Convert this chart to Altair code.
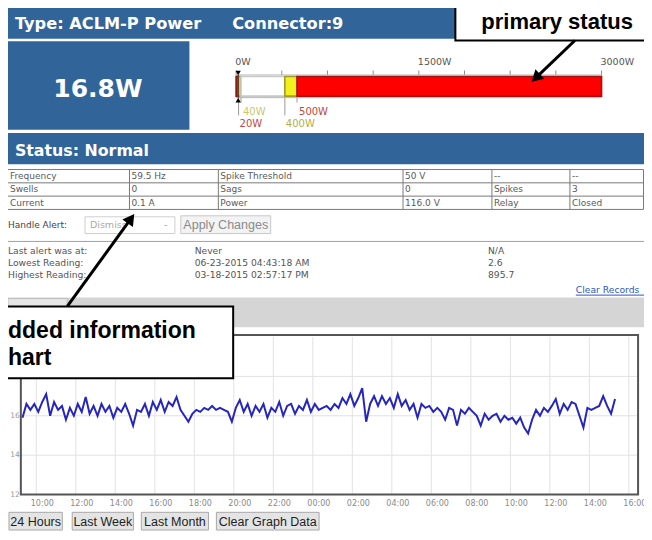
import altair as alt
import pandas as pd

# ---------------- data ----------------
device_type = "Type: ACLM-P Power"
connector = "Connector:9"
current_reading = "16.8W"
current_power = [16.8]
status_label = "Status: Normal"

gauge_domain = [0, 3000]
gauge_ticks = [0, 375, 750, 1125, 1500, 1875, 2250, 2625, 3000]
gauge_labelled = [0, 1500, 3000]
zone_start = [0, 20, 40, 400, 500]
zone_end = [20, 40, 400, 500, 3000]
threshold_values = [20, 40, 400, 500]
threshold_labels = ["20W", "40W", "400W", "500W"]
threshold_row = ["lower", "upper", "lower", "upper"]

table_rows = [
    ["Frequency", "59.5 Hz", "Spike Threshold", "50 V", "--", "--"],
    ["Swells", "0", "Sags", "0", "Spikes", "3"],
    ["Current", "0.1 A", "Power", "116.0 V", "Relay", "Closed"],
]
handle_label = "Handle Alert:"
handle_choice = "Dismiss"
apply_label = "Apply Changes"
info_labels = ["Last alert was at:", "Lowest Reading:", "Highest Reading:"]
info_times = ["Never", "06-23-2015 04:43:18 AM", "03-18-2015 02:57:17 PM"]
info_values = ["N/A", "2.6", "895.7"]
clear_label = "Clear Records"
button_labels = ["24 Hours", "Last Week", "Last Month", "Clear Graph Data"]
callout_top = "primary status"
callout_bottom = ["dded information", "hart"]

series_day = "2015-06-24 00:00"
series_start = "2015-06-24 09:18"
series_step_min = 12
power_w = [
    15.9, 16.6, 16.3, 16.6, 16.2, 16.7, 17.1, 16.0, 16.7, 16.3,
    16.5, 15.8, 16.4, 16.0, 16.6, 16.2, 16.95, 16.1, 16.5, 16.0,
    16.6, 16.2, 16.5, 15.9, 16.4, 16.2, 16.6, 16.1, 15.5, 16.3,
    16.2, 16.6, 16.0, 16.7, 16.3, 16.8, 16.2, 16.7, 16.5, 16.95,
    16.3, 16.0, 15.7, 16.1, 16.3, 16.2, 16.4, 16.3, 16.5, 16.3,
    16.4, 16.3, 16.2, 15.7, 16.4, 16.8, 16.2, 16.6, 16.0, 16.5,
    16.2, 16.6, 15.9, 16.4, 16.2, 16.7, 16.0, 16.5, 16.6, 16.1,
    16.5, 16.3, 16.8, 16.2, 16.6, 16.3, 16.4, 16.5, 16.3, 16.6,
    16.4, 16.9, 16.6, 17.1, 16.5, 16.9, 17.4, 15.7, 16.6, 17.0,
    16.5, 17.0, 16.6, 16.9, 16.4, 17.1, 16.5, 16.8, 16.3, 16.6,
    15.9, 16.6, 16.4, 16.5, 16.2, 16.4, 16.2, 15.8, 16.4, 16.3,
    15.5, 16.3, 16.1, 16.4, 16.2, 16.0, 15.5, 16.1, 15.8, 16.0,
    16.1, 15.7, 16.0, 15.8, 15.9, 15.6, 15.9, 15.4, 15.1, 15.8,
    16.3, 16.0, 16.4, 16.2, 16.5, 16.85, 16.1, 16.6, 16.3, 16.7,
    16.6, 16.0, 15.4, 16.4, 16.3, 16.4, 16.5, 17.0, 16.5, 16.1,
    16.85,
]
y_domain = [12, 20]
y_gridlines = [14, 16, 18]
y_labelled = [12, 14, 16]
x_tick_start = "2015-06-24 10:00"
x_tick_end = "2015-06-25 16:00"
x_view_start = "2015-06-24 09:13"
x_view_end = "2015-06-25 16:28"

# ---------------- styles / layout ----------------
VF = "DejaVu Sans"
AF = "Liberation Sans"
BLUE = "#31659a"
zone_fill = ["#e02a1c", "#f4f01e", "#ffffff", "#f4f01e", "#ff0000"]
zone_edge = ["#8a1a10", "#a8a43a", "#c8c8c8", "#a09a30", "#a81010"]
threshold_colors = ["#c0493c", "#cdc866", "#b5ae44", "#c0493c"]

W, H = 636, 524          # canvas that fits the window with its 8px page margin
KX, KY = W / 644.0, H / 532.0


def X(v):
    return v * KX


def Y(v):
    return v * KY


def rect(x, x2, y, y2, fill="#ffffff", stroke=None, sw=1.0, fill_opacity=1.0):
    props = dict(fill=fill, fillOpacity=fill_opacity)
    if stroke:
        props.update(stroke=stroke, strokeWidth=sw)
    return alt.Chart().mark_rect(**props).encode(
        x=alt.value(X(x)), x2=alt.value(X(x2)), y=alt.value(Y(y)), y2=alt.value(Y(y2)))


def text(s, x, y, size=9.5, color="#555555", font=VF, weight="normal",
         align="left", baseline="middle"):
    return alt.Chart().mark_text(
        text=s, font=font, fontSize=size, fontWeight=weight, color=color,
        align=align, baseline=baseline).encode(x=alt.value(X(x)), y=alt.value(Y(y)))


def seg(x, y, x2, y2, color="#777777", sw=1.0):
    return alt.Chart().mark_rule(color=color, strokeWidth=sw).encode(
        x=alt.value(X(x)), y=alt.value(Y(y)), x2=alt.value(X(x2)), y2=alt.value(Y(y2)))


def head(x, y, angle, size=170):
    return alt.Chart().mark_point(
        shape="triangle-up", filled=True, color="black", opacity=1,
        size=size, angle=angle).encode(x=alt.value(X(x)), y=alt.value(Y(y)))


layers = []

# header / gauge box / status
layers += [
    rect(-1, 645, -2, 31.3, BLUE),
    text(device_type, 7, 16, 16.2, "white", weight="bold"),
    text(connector, 227, 16, 16.2, "white", weight="bold"),
    rect(-1, 183.7, 33.7, 123.7, BLUE),
    text(current_reading, 91, 82, 25, "white", weight="bold", align="center"),
    rect(-1, 645, 127, 158.7, BLUE),
    text(status_label, 7, 145, 15.8, "white", weight="bold"),
]

# table
col_edges = [-1, 123, 213, 400, 490, 569, 643.5]
row_edges = [164, 177.5, 191, 204.5]
for ry in row_edges:
    layers.append(seg(col_edges[0], ry, col_edges[-1], ry, "#7a7a7a", 1))
for cx in col_edges:
    layers.append(seg(cx, row_edges[0], cx, row_edges[-1], "#7a7a7a", 1))
for ri, row in enumerate(table_rows):
    yc = (row_edges[ri] + row_edges[ri + 1]) / 2
    for ci, cell in enumerate(row):
        layers.append(text(cell, max(col_edges[ci], 0) + 2, yc, 9, "#5a5a5a"))

# handle alert row
layers += [
    text(handle_label, 0, 220, 9, "#444444"),
    rect(78, 169, 212, 229, "#ffffff", "#cfcfcf"),
    text(handle_choice, 83, 220.5, 9.5, "#aaaaaa"),
    text("-", 158, 220.5, 9, "#999999"),
    rect(175, 266, 211, 229, "#f3f3f3", "#c8c8c8"),
    text(apply_label, 220.5, 220.5, 12.5, "#8a8a8a", font=AF, align="center"),
    seg(-1, 237, 645, 237, "#a0a0a0", 1),
]
for i, (a, b, c) in enumerate(zip(info_labels, info_times, info_values)):
    yy = 247 + 12 * i
    layers += [text(a, 0, yy, 9.2, "#555555"), text(b, 189, yy, 9.2, "#555555"),
               text(c, 486, yy, 9.2, "#555555")]
layers += [
    text(clear_label, 575, 286, 9.2, "#2e57c2"),
    seg(575, 291.5, 645, 291.5, "#2e57c2", 1),
    rect(0, 645, 294, 324, "#d5d5d5"),
    rect(0, 60, 295, 312, "#e6e6e6", "#bdbdbd"),
]

# buttons
button_x = [(1, 55), (65, 127), (135, 203), (211, 315)]
for lab, (bx, bx2) in zip(button_labels, button_x):
    layers += [rect(bx, bx2, 512, 530, "#e4e4e4", "#a8a8a8"),
               text(lab, (bx + bx2) / 2, 521.5, 12.5, "#1e1e1e", font=AF,
                    align="center")]

# ---------------- line chart (x = hours since series_day) ----------------
day0 = pd.Timestamp(series_day)
t0 = pd.Timestamp(series_start)
times = [t0 + pd.Timedelta(minutes=series_step_min * i) for i in range(len(power_w))]
line_df = pd.DataFrame({
    "h": [(t - day0) / pd.Timedelta(hours=1) for t in times],
    "v": power_w,
})
tick_times = pd.date_range(x_tick_start, x_tick_end, freq="2h")
tick_df = pd.DataFrame({
    "h": [(t - day0) / pd.Timedelta(hours=1) for t in tick_times],
    "label": tick_times.strftime("%H:%M"),
})
ylab_df = pd.DataFrame({"v": y_labelled})
hgrid_df = pd.DataFrame({"v": y_gridlines})
x_view = [(pd.Timestamp(x_view_start) - day0) / pd.Timedelta(hours=1),
          (pd.Timestamp(x_view_end) - day0) / pd.Timedelta(hours=1)]

xs = alt.Scale(domain=x_view, range=[X(13), X(638)], nice=False, zero=False)
ys = alt.Scale(domain=y_domain, range=[Y(494), Y(334)], nice=False, zero=False)

vgrid = alt.Chart(tick_df).mark_rule(color="#e2e2e2").encode(
    x=alt.X("h:Q", scale=xs, axis=None), y=alt.value(Y(334)), y2=alt.value(Y(494)))
hgrid = alt.Chart(hgrid_df).mark_rule(color="#e2e2e2").encode(
    y=alt.Y("v:Q", scale=ys, axis=None), x=alt.value(X(13)), x2=alt.value(X(638)))
xlabels = alt.Chart(tick_df).mark_text(
    font=VF, fontSize=8, color="#8a8a8a", align="center", baseline="middle", dx=6).encode(
    x=alt.X("h:Q", scale=xs, axis=None), y=alt.value(Y(504)), text="label:N")
ylabels = alt.Chart(ylab_df).mark_text(
    font=VF, fontSize=7.5, color="#999999", align="right", baseline="middle").encode(
    y=alt.Y("v:Q", scale=ys, axis=None), x=alt.value(X(12)), text="v:Q")
frame = rect(13, 638, 332, 494, "#ffffff", "#555555", 2, fill_opacity=0)
line = alt.Chart(line_df).mark_line(color="#2626bd", strokeWidth=2).encode(
    x=alt.X("h:Q", scale=xs, axis=None), y=alt.Y("v:Q", scale=ys, axis=None))
line_layer = alt.layer(vgrid, hgrid, xlabels, ylabels, line, frame)

# ---------------- gauge ----------------
gs = alt.Scale(domain=gauge_domain, range=[X(231), X(601)], nice=False, zero=False)

gframe_df = pd.DataFrame({"a": [gauge_domain[0]], "b": [gauge_domain[1]]})
zone_df = pd.DataFrame({"a": zone_start, "b": zone_end, "fill": zone_fill, "edge": zone_edge})
thr_df = pd.DataFrame({"v": threshold_values, "label": threshold_labels,
                       "color": threshold_colors, "row": threshold_row})
ptr_df = pd.DataFrame({"v": current_power})
gtick_df = pd.DataFrame({"v": gauge_ticks})
glab_df = pd.DataFrame({"v": gauge_labelled, "label": [f"{v}W" for v in gauge_labelled]})

GX = dict(scale=gs, axis=None)
g_ticks = alt.Chart(gtick_df).mark_rule(color="#8c8c8c").encode(
    x=alt.X("v:Q", **GX), y=alt.value(Y(63.5)), y2=alt.value(Y(68)))
g_labels = alt.Chart(glab_df).mark_text(
    font=VF, fontSize=9.5, color="#555555", align="left", baseline="middle", dx=-1).encode(
    x=alt.X("v:Q", **GX), y=alt.value(Y(55)), text="label:N")
g_frame = alt.Chart(gframe_df).mark_rect(fill="#ffffff", stroke="#b5b5b5", strokeWidth=1).encode(
    x=alt.X("a:Q", **GX), x2="b:Q", y=alt.value(Y(68)), y2=alt.value(Y(91)))
g_zones = alt.Chart(zone_df).mark_rect(strokeWidth=1.6).encode(
    x=alt.X("a:Q", **GX), x2="b:Q",
    fill=alt.Fill("fill:N", scale=None), stroke=alt.Stroke("edge:N", scale=None),
    y=alt.value(Y(69.5)), y2=alt.value(Y(89.5)))
thr_upper = thr_df[thr_df.row == "upper"]
thr_lower = thr_df[thr_df.row == "lower"]
g_lead_u = alt.Chart(thr_upper).mark_rule(color="#9a9a9a").encode(
    x=alt.X("v:Q", **GX), y=alt.value(Y(91)), y2=alt.value(Y(96)))
g_lead_l = alt.Chart(thr_lower).mark_rule(color="#9a9a9a").encode(
    x=alt.X("v:Q", **GX), y=alt.value(Y(91)), y2=alt.value(Y(109)))
g_lab_u = alt.Chart(thr_upper).mark_text(align="left", dx=2, font=VF, fontSize=10).encode(
    x=alt.X("v:Q", **GX), y=alt.value(Y(106)), text="label:N",
    color=alt.Color("color:N", scale=None))
g_lab_l = alt.Chart(thr_lower).mark_text(align="left", dx=1, font=VF, fontSize=10).encode(
    x=alt.X("v:Q", **GX), y=alt.value(Y(118)), text="label:N",
    color=alt.Color("color:N", scale=None))
g_ptr_line = alt.Chart(ptr_df).mark_rule(color="#4a2a1a", strokeWidth=1.2).encode(
    x=alt.X("v:Q", **GX), y=alt.value(Y(68)), y2=alt.value(Y(91)))
g_ptr_top = alt.Chart(ptr_df).mark_point(shape="triangle-down", filled=True, color="black",
                                         opacity=1, size=28).encode(
    x=alt.X("v:Q", **GX), y=alt.value(Y(66)))
g_ptr_bot = alt.Chart(ptr_df).mark_point(shape="triangle-up", filled=True, color="black",
                                         opacity=1, size=28).encode(
    x=alt.X("v:Q", **GX), y=alt.value(Y(93.5)))
gauge_layer = alt.layer(g_ticks, g_labels, g_frame, g_zones, g_lead_u, g_lead_l,
                        g_lab_u, g_lab_l, g_ptr_line, g_ptr_top, g_ptr_bot)

# ---------------- callouts ----------------
callouts = [
    rect(453, 660, -10, 33, "#ffffff", "#000000", 2),
    text(callout_top, 556, 21.5, 22, "#000000", font=AF, weight="bold",
         align="center", baseline="alphabetic"),
    seg(574, 33, 534.4, 70.9, "#000000", 3),
    head(534.4, 70.9, 227),
    rect(-10, 228, 303, 376, "#ffffff", "#000000", 2),
    text(callout_bottom[0], 0, 335, 23, "#000000", font=AF, weight="bold",
         baseline="alphabetic"),
    text(callout_bottom[1], 0, 362, 23, "#000000", font=AF, weight="bold",
         baseline="alphabetic"),
    seg(60, 303, 124.5, 213.9, "#000000", 3),
    head(124.5, 213.9, 36),
]

one = pd.DataFrame({"k": [0]})
chart = alt.layer(*layers, line_layer, gauge_layer, *callouts, data=one).resolve_scale(
    x="independent", y="independent"
).properties(
    width=W, height=H, padding=0, autosize=alt.AutoSizeParams(type="none")
).configure_view(stroke=None)

chart.save("out.html", embed_options={"renderer": "svg", "actions": False})
